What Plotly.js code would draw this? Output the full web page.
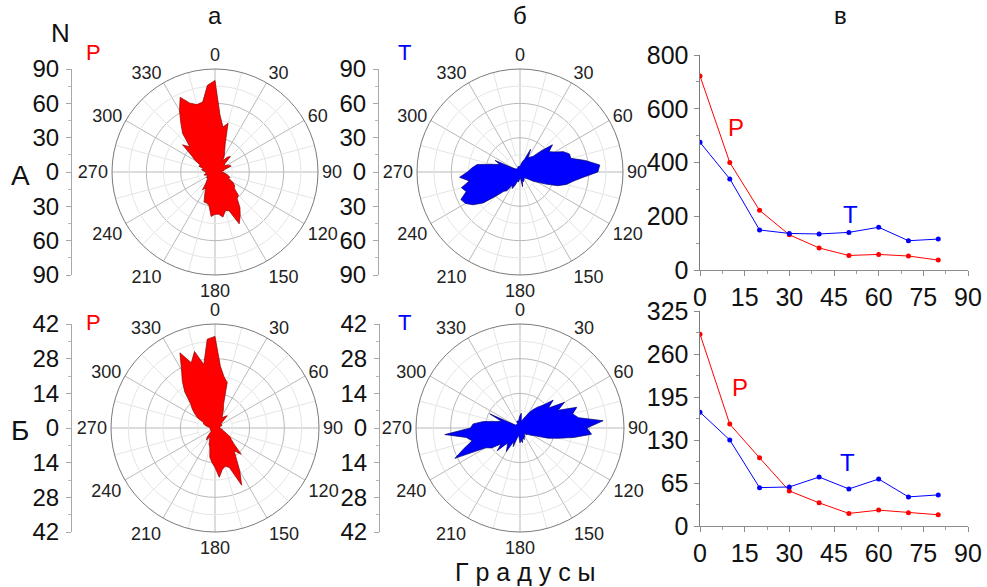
<!DOCTYPE html>
<html><head><meta charset="utf-8">
<script src="https://cdn.plot.ly/plotly-3.0.1.min.js"></script>
<style>html,body{margin:0;padding:0;background:#fff}</style>
</head><body>
<div id="chart" style="width:987px;height:587px"></div>
<script>
// ---- data ----
const angles = [0,5,10,15,20,25,30,35,40,45,50,55,60,65,70,75,80,85,90,95,100,105,110,115,120,125,130,135,140,145,150,155,160,165,170,175,180,185,190,195,200,205,210,215,220,225,230,235,240,245,250,255,260,265,270,275,280,285,290,295,300,305,310,315,320,325,330,335,340,345,350,355];
// row A, column a (P)
const rAP = [80,50,40,44,26,20,16,12,17,19,11,10,12,14,15,9,8,6,6,8,10,12,14,13,18,21,22,29,30,38,44,50,36,35,40,37,37,39,30,28,28,21,16,19,12,10,8,9,8,7,8,10,8,8,8,10,12,10,15,14,20,25,37,31,44,52,62,72,64,61,62,76];
// row A, column b (T)
const rAT = [5,6,8,10,12,22,14,16,18,26,37,31,35,42,46,46,58,70,68,55,47,42,35,25,18,14,10,8,7,6,7,8,9,8,13,6,5,7,9,8,12,16,13,20,22,30,42,50,55,57,50,53,45,53,46,42,38,26,19,24,6,5,4,4,4,4,4,4,5,5,5,5];
// row B, column a (P)
const rBP = [37,25,21,19,10,8,6,5,6,7,4,3,3,3,3,2,2,2,2,2,3,3,4,5,7,8,10,15,12,15,20,25.5,17,16,17,20,16,14,12,8,7,5,4,6,5,3,2,2,2,2,2,2,2,2,2,2,3,4,5,5,8,10,12,14,19,23,27,33.5,28,32,26,36];
// row B, column b (T)
const rBT = [5,6,3,3,4,5,7,9,11,13,17.5,14,20.7,17,24.4,22,24,33.7,27,29,22,16,12,8,6,5,4,4,3,3,4,4,5,4,6,5,6,4,3,4,8,6,11,9,8,13,10,14,16,29,24,20,22,30.5,20,19,15,10,8,13.5,3,2,2,2,2,2,2,3,3,3,3,4];

const angleTicks = [0,30,60,90,120,150,180,210,240,270,300,330];
const scaleAVals = [-90,-60,-30,0,30,60,90];
const scaleALabels = ['90','60','30','0','30','60','90'];
const scaleBVals = [-42,-28,-14,0,14,28,42];
const scaleBLabels = ['42','28','14','0','14','28','42'];

const dist = [0,10,20,30,40,50,60,70,80];
const lineAP = [722,400,222,131,82,54,58,52,37];
const lineAT = [475,339,149,136,134,140,159,109,115];
const lineBP = [290,154,103,53,35,19,24,20,17];
const lineBT = [172,130,58,59,74,56,71,44,47];
const distTicks = [0,15,30,45,60,75,90];
const lineATicks = [0,200,400,600,800];
const lineBTicks = [0,65,130,195,260,325];

// ---- layout helpers ----
const W = 987, H = 587;
const FONT = 'Arial, "Liberation Sans", sans-serif';
const px = v => v / W;
const py = v => 1 - v / H;

function polarLayout(cx, cy, R, rmax) {
  return {
    domain: {x: [px(cx - R), px(cx + R)], y: [py(cy + R), py(cy - R)]},
    bgcolor: 'rgba(0,0,0,0)',
    radialaxis: {range: [0, rmax], tickvals: [rmax/3, 2*rmax/3], showticklabels: false, ticks: '',
      showline: false, gridcolor: '#b9b9b9', gridwidth: 1},
    angularaxis: {direction: 'clockwise', rotation: 90, tickvals: angleTicks,
      ticktext: angleTicks.map(String), ticks: '', showline: true, linecolor: '#7a7a7a', linewidth: 1,
      gridcolor: '#b9b9b9', tickfont: {size: 18, color: '#222', family: FONT}}
  };
}

function minorGrid(sub, rmax) {
  const tr = [];
  const circ = [];
  for (let a = 0; a <= 360; a += 3) circ.push(a);
  [rmax/6, rmax/2, 5*rmax/6].forEach(r => {
    tr.push({type: 'scatterpolar', subplot: sub, mode: 'lines', r: circ.map(() => r), theta: circ,
      line: {color: '#e4e4e4', width: 1}, hoverinfo: 'skip', showlegend: false});
  });
  angleTicks.forEach(a => {
    tr.push({type: 'scatterpolar', subplot: sub, mode: 'lines', r: [rmax/6, rmax], theta: [a + 15, a + 15],
      line: {color: '#e4e4e4', width: 1}, hoverinfo: 'skip', showlegend: false});
  });
  return tr;
}

function rose(sub, r, fill, edge) {
  return {type: 'scatterpolar', subplot: sub, mode: 'lines', fill: 'toself',
    r: r.concat([r[0]]), theta: angles.concat([angles[0]]),
    fillcolor: fill, line: {color: edge, width: 0.7}, hoverinfo: 'skip', showlegend: false};
}

function scaleAxes(n, xpix, cy, R, rmax, vals, labels, minorStep) {
  const xa = {domain: [px(xpix), px(xpix + 1)], anchor: 'y' + n, visible: false, range: [0, 1], fixedrange: true};
  const minorVals = [];
  for (let v = -rmax + minorStep; v < rmax; v += 2 * minorStep) minorVals.push(v);
  const ya = {domain: [py(cy + R), py(cy - R)], anchor: 'x' + n, range: [-rmax, rmax],
    tickmode: 'array', tickvals: vals, ticktext: labels, showline: true, linecolor: '#a8a8a8', linewidth: 1,
    ticks: 'outside', ticklen: 5, tickcolor: '#a8a8a8', showgrid: false, zeroline: false,
    tickfont: {size: 24, color: '#111', family: FONT}, ticklabelstandoff: 2,
    minor: {tickvals: minorVals, ticks: 'outside', ticklen: 3, tickcolor: '#b8b8b8', showgrid: false}};
  return [xa, ya];
}

const data = [];
data.push(...minorGrid('polar', 90), rose('polar', rAP, '#ff0000', '#8b0000'));
data.push(...minorGrid('polar2', 90), rose('polar2', rAT, '#0000ff', '#000070'));
data.push(...minorGrid('polar3', 42), rose('polar3', rBP, '#ff0000', '#8b0000'));
data.push(...minorGrid('polar4', 42), rose('polar4', rBT, '#0000ff', '#000070'));

// invisible anchors for scale subplots
['', '2', '3', '4'].forEach(s => data.push({type: 'scatter', x: [0.5], y: [0], xaxis: 'x' + s, yaxis: 'y' + s,
  mode: 'markers', marker: {opacity: 0}, hoverinfo: 'skip', showlegend: false}));

function lineTrace(x, y, color, n) {
  return {type: 'scatter', x: x, y: y, xaxis: 'x' + n, yaxis: 'y' + n, mode: 'lines+markers',
    line: {color: color, width: 1}, marker: {color: color, size: 5}, hoverinfo: 'skip', showlegend: false};
}
data.push(lineTrace(dist, lineAP, '#ff0000', 5), lineTrace(dist, lineAT, '#0000ff', 5));
data.push(lineTrace(dist, lineBP, '#ff0000', 6), lineTrace(dist, lineBT, '#0000ff', 6));

const [sx1, sy1] = scaleAxes('', 72, 172, 103, 90, scaleAVals, scaleALabels, 15);
const [sx2, sy2] = scaleAxes('2', 379, 172, 103, 90, scaleAVals, scaleALabels, 15);
const [sx3, sy3] = scaleAxes('3', 72, 428, 104, 42, scaleBVals, scaleBLabels, 7);
const [sx4, sy4] = scaleAxes('4', 380, 428, 104, 42, scaleBVals, scaleBLabels, 7);

function lineX(n, ypix) {
  return {domain: [px(700), px(968)], anchor: 'y' + n, range: [0, 90], tickvals: distTicks,
    showline: true, linecolor: '#8c8c8c', linewidth: 1, ticks: 'outside', ticklen: 5, tickcolor: '#8c8c8c',
    showgrid: false, zeroline: false, tickfont: {size: 25, color: '#111', family: FONT},
    minor: {dtick: 7.5, tick0: 0, ticks: 'outside', ticklen: 3, tickcolor: '#9c9c9c', showgrid: false}};
}
function lineY(n, ytop, ybot, rmax, ticks, minorStep) {
  return {domain: [py(ybot), py(ytop)], anchor: 'x' + n, range: [0, rmax], tickvals: ticks,
    showline: true, linecolor: '#7c7c7c', linewidth: 1.5, ticks: 'outside', ticklen: 5, tickcolor: '#8c8c8c',
    showgrid: false, zeroline: false, tickfont: {size: 25, color: '#111', family: FONT},
    minor: {dtick: minorStep, tick0: 0, ticks: 'outside', ticklen: 3, tickcolor: '#9c9c9c', showgrid: false}};
}

function txt(x, y, s, size, color) {
  return {xref: 'paper', yref: 'paper', x: px(x), y: py(y), text: s, showarrow: false,
    xanchor: 'center', yanchor: 'middle', font: {size: size, color: color || '#111', family: FONT}};
}

const layout = {
  width: W, height: H, margin: {l: 0, r: 0, t: 0, b: 0}, paper_bgcolor: 'white', plot_bgcolor: 'white',
  showlegend: false,
  polar: polarLayout(215, 172, 103, 90),
  polar2: polarLayout(520, 172, 103, 90),
  polar3: polarLayout(215, 428, 104, 42),
  polar4: polarLayout(520, 428, 104, 42),
  xaxis: sx1, yaxis: sy1, xaxis2: sx2, yaxis2: sy2, xaxis3: sx3, yaxis3: sy3, xaxis4: sx4, yaxis4: sy4,
  xaxis5: lineX(5), yaxis5: lineY(5, 55, 270, 800, lineATicks, 100),
  xaxis6: lineX(6), yaxis6: lineY(6, 311, 526, 325, lineBTicks, 32.5),
  annotations: [
    txt(215, 15, 'а', 24), txt(520, 15, 'б', 24), txt(840, 15, 'в', 24),
    txt(60, 33, 'N', 26),
    txt(20, 175, 'А', 28), txt(20, 430, 'Б', 28),
    txt(93, 53, 'P', 22, '#ff0000'), txt(404, 53, 'T', 22, '#0000ff'),
    txt(93, 322, 'P', 22, '#ff0000'), txt(404, 322, 'T', 22, '#0000ff'),
    txt(736, 127, 'P', 24, '#ff0000'), txt(850, 215, 'T', 24, '#0000ff'),
    txt(740, 387, 'P', 24, '#ff0000'), txt(847, 463, 'T', 24, '#0000ff'),
    txt(525, 572, 'Г р а д у с ы', 25)
  ]
};

Plotly.newPlot('chart', data, layout, {staticPlot: true, displayModeBar: false});
</script>
</body></html>
